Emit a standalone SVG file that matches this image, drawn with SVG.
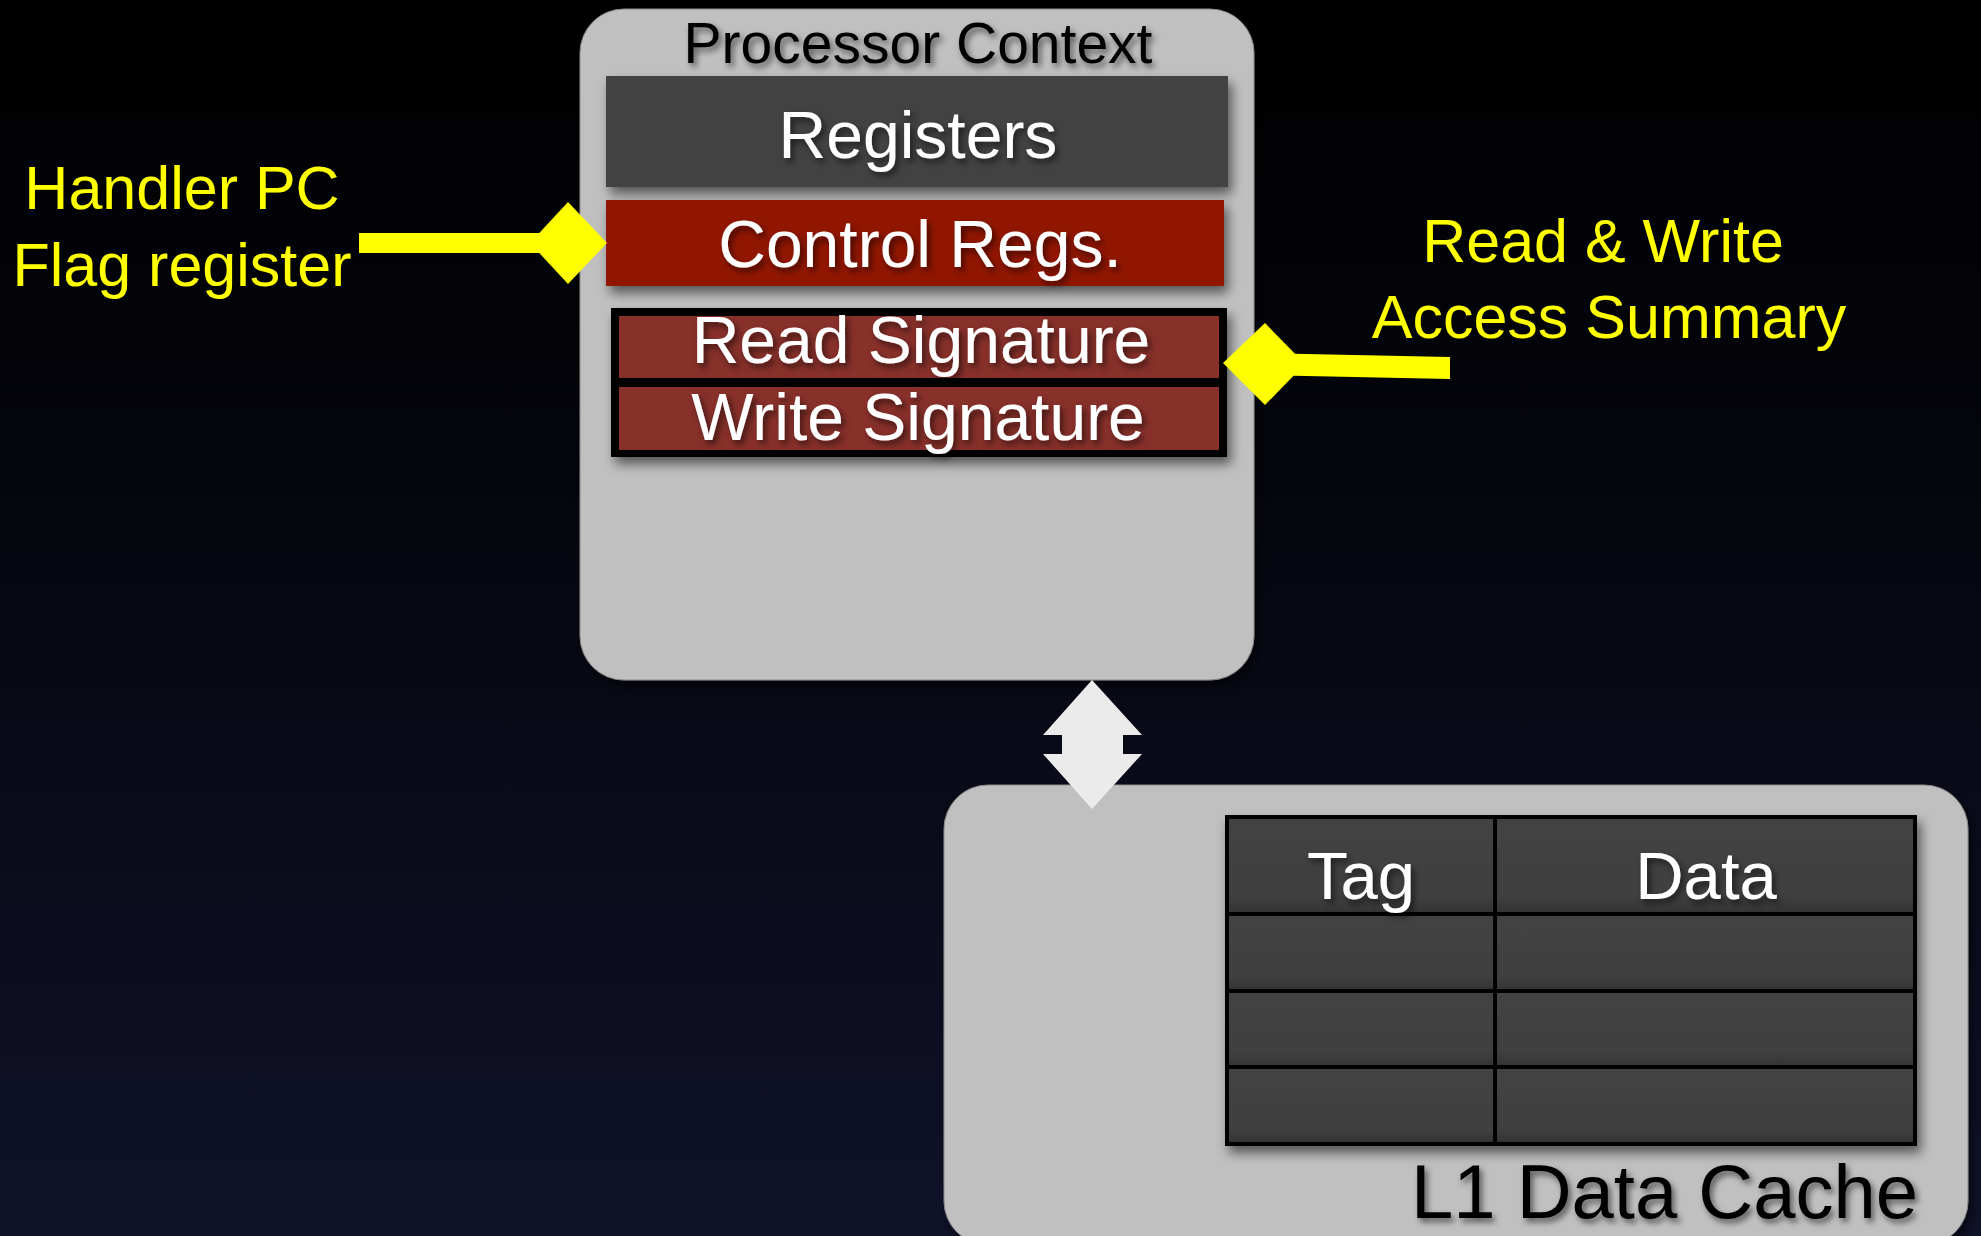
<svg xmlns="http://www.w3.org/2000/svg" width="1981" height="1236" viewBox="0 0 1981 1236">
  <defs>
    <linearGradient id="bg" x1="0" y1="0" x2="0" y2="1">
      <stop offset="0" stop-color="#000000"/>
      <stop offset="0.35" stop-color="#04050b"/>
      <stop offset="1" stop-color="#10122a"/>
    </linearGradient>
    <linearGradient id="cell" x1="0" y1="0" x2="0" y2="1">
      <stop offset="0" stop-color="#434343"/>
      <stop offset="0.8" stop-color="#404040"/>
      <stop offset="1" stop-color="#333333"/>
    </linearGradient>
    <filter id="boxShadow" x="-10%" y="-10%" width="125%" height="130%">
      <feDropShadow dx="4" dy="7" stdDeviation="6" flood-color="#000" flood-opacity="0.55"/>
    </filter>
    <filter id="textShadow" x="-10%" y="-20%" width="130%" height="160%">
      <feDropShadow dx="3" dy="4" stdDeviation="3" flood-color="#000" flood-opacity="0.55"/>
    </filter>
  </defs>
  <style>
    .panel { fill: #c0c0c0; stroke: #8a8a8a; stroke-width: 1; }
    .lbl { font-family: "Liberation Sans", Arial, sans-serif; text-anchor: middle; }
    .white { fill: #ffffff; filter: url(#textShadow); }
    .black { fill: #000000; filter: url(#textShadow); }
    .yellow { fill: #ffff00; font-family: "Liberation Sans", Arial, sans-serif; text-anchor: middle; font-size: 61px; }
    .conn { fill: #ffff00; }
    .cell { fill: url(#cell); stroke: #000; stroke-width: 4; }
  </style>

  <rect x="0" y="0" width="1981" height="1236" fill="url(#bg)"/>

  <g id="processor-context">
    <rect class="panel" x="580" y="9" width="674" height="671" rx="44" ry="44" filter="url(#boxShadow)"/>
    <text class="lbl black" x="918" y="63" font-size="57">Processor Context</text>
  </g>

  <g id="registers">
    <rect x="606" y="76" width="622" height="111" fill="#424242" filter="url(#boxShadow)"/>
    <text class="lbl white" x="918" y="158" font-size="66">Registers</text>
  </g>

  <g id="control-regs">
    <rect x="606" y="200" width="618" height="86" fill="#911300" filter="url(#boxShadow)"/>
    <text class="lbl white" x="920" y="267" font-size="66">Control Regs.</text>
  </g>

  <g id="signatures">
    <rect x="611" y="308" width="616" height="149" fill="#000000" filter="url(#boxShadow)"/>
    <g id="read-signature">
      <rect x="619" y="316" width="600" height="62" fill="#88302a"/>
      <text class="lbl white" x="921" y="363" font-size="66">Read Signature</text>
    </g>
    <g id="write-signature">
      <rect x="619" y="387" width="600" height="63" fill="#88302a"/>
      <text class="lbl white" x="918" y="440" font-size="66">Write Signature</text>
    </g>
  </g>

  <g id="handler-label">
    <text class="yellow" x="182" y="209">Handler PC</text>
    <text class="yellow" x="182" y="286">Flag register</text>
  </g>

  <g id="access-summary-label">
    <text class="yellow" x="1603" y="262">Read &amp; Write</text>
    <text class="yellow" x="1609" y="338" font-size="62">Access Summary</text>
  </g>

  <g id="l1-data-cache">
    <rect class="panel" x="944" y="785" width="1024" height="460" rx="44" ry="44" filter="url(#boxShadow)"/>
    <g id="cache-table" filter="url(#boxShadow)">
      <rect class="cell" x="1227" y="817" width="268" height="97"/>
      <rect class="cell" x="1495" y="817" width="420" height="97"/>
      <rect class="cell" x="1227" y="914" width="268" height="77"/>
      <rect class="cell" x="1495" y="914" width="420" height="77"/>
      <rect class="cell" x="1227" y="991" width="268" height="76"/>
      <rect class="cell" x="1495" y="991" width="420" height="76"/>
      <rect class="cell" x="1227" y="1067" width="268" height="77"/>
      <rect class="cell" x="1495" y="1067" width="420" height="77"/>
    </g>
    <text class="lbl white" x="1361" y="899" font-size="67">Tag</text>
    <text class="lbl white" x="1706" y="899" font-size="67">Data</text>
    <text class="lbl black" x="1918" y="1218" font-size="76" style="text-anchor:end">L1 Data Cache</text>
  </g>

  <g id="connectors">
    <g id="conn-left">
      <rect class="conn" x="359" y="233" width="200" height="20"/>
      <polygon class="conn" points="568,202 607,243 568,284 530,243"/>
    </g>
    <g id="conn-right">
      <polygon class="conn" points="1262,353 1450,357 1450,379 1262,375"/>
      <polygon class="conn" points="1265,323 1305,364 1265,405 1223,363"/>
    </g>
    <g id="conn-bidirectional">
      <polygon fill="#ebebeb" points="1092,680 1142,735 1123,735 1123,754 1142,754 1092,809 1043,754 1062,754 1062,735 1043,735"/>
    </g>
  </g>
</svg>
